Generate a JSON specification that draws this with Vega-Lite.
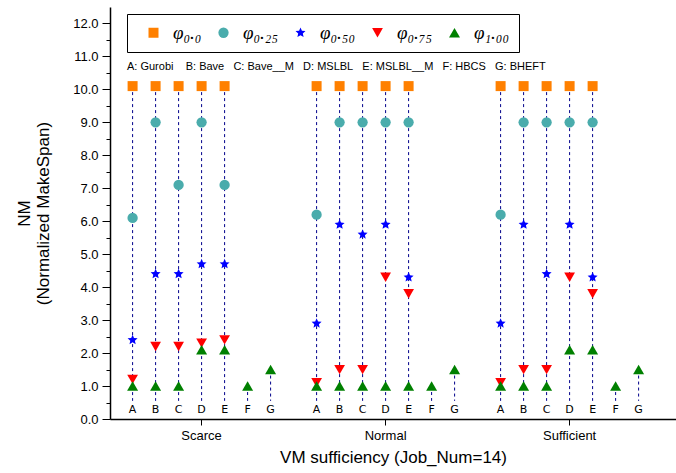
{
  "$schema": "https://vega.github.io/schema/vega-lite/v6.json",
  "autosize": "none",
  "width": 566,
  "height": 412,
  "padding": {"left": 110, "top": 7, "right": 0, "bottom": 54},
  "config": {"font": "Liberation Sans", "view": {"stroke": null}},
  "title": {
    "text": "A: Gurobi\u00a0\u00a0\u00a0\u00a0B: Bave\u00a0\u00a0\u00a0C: Bave__M\u00a0\u00a0\u00a0D: MSLBL\u00a0\u00a0\u00a0E: MSLBL__M\u00a0\u00a0\u00a0F: HBCS\u00a0\u00a0\u00a0G: BHEFT",
    "anchor": "start", "frame": "group", "orient": "top", "offset": 0,
    "dx": 17, "dy": 71, "baseline": "middle",
    "font": "Liberation Sans", "fontSize": 11, "fontWeight": "normal", "color": "black"
  },
  "data": {"values": [
    {"vm":"Scarce","alg":"A","phi":"φ₀.₀","nm":10.1},
    {"vm":"Scarce","alg":"A","phi":"φ₀.₂₅","nm":6.1},
    {"vm":"Scarce","alg":"A","phi":"φ₀.₅₀","nm":2.4},
    {"vm":"Scarce","alg":"A","phi":"φ₀.₇₅","nm":1.2},
    {"vm":"Scarce","alg":"A","phi":"φ₁.₀₀","nm":1.0},
    {"vm":"Scarce","alg":"B","phi":"φ₀.₀","nm":10.1},
    {"vm":"Scarce","alg":"B","phi":"φ₀.₂₅","nm":9.0},
    {"vm":"Scarce","alg":"B","phi":"φ₀.₅₀","nm":4.4},
    {"vm":"Scarce","alg":"B","phi":"φ₀.₇₅","nm":2.2},
    {"vm":"Scarce","alg":"B","phi":"φ₁.₀₀","nm":1.0},
    {"vm":"Scarce","alg":"C","phi":"φ₀.₀","nm":10.1},
    {"vm":"Scarce","alg":"C","phi":"φ₀.₂₅","nm":7.1},
    {"vm":"Scarce","alg":"C","phi":"φ₀.₅₀","nm":4.4},
    {"vm":"Scarce","alg":"C","phi":"φ₀.₇₅","nm":2.2},
    {"vm":"Scarce","alg":"C","phi":"φ₁.₀₀","nm":1.0},
    {"vm":"Scarce","alg":"D","phi":"φ₀.₀","nm":10.1},
    {"vm":"Scarce","alg":"D","phi":"φ₀.₂₅","nm":9.0},
    {"vm":"Scarce","alg":"D","phi":"φ₀.₅₀","nm":4.7},
    {"vm":"Scarce","alg":"D","phi":"φ₀.₇₅","nm":2.3},
    {"vm":"Scarce","alg":"D","phi":"φ₁.₀₀","nm":2.1},
    {"vm":"Scarce","alg":"E","phi":"φ₀.₀","nm":10.1},
    {"vm":"Scarce","alg":"E","phi":"φ₀.₂₅","nm":7.1},
    {"vm":"Scarce","alg":"E","phi":"φ₀.₅₀","nm":4.7},
    {"vm":"Scarce","alg":"E","phi":"φ₀.₇₅","nm":2.4},
    {"vm":"Scarce","alg":"E","phi":"φ₁.₀₀","nm":2.1},
    {"vm":"Scarce","alg":"F","phi":"φ₁.₀₀","nm":1.0},
    {"vm":"Scarce","alg":"G","phi":"φ₁.₀₀","nm":1.5},
    {"vm":"Normal","alg":"A","phi":"φ₀.₀","nm":10.1},
    {"vm":"Normal","alg":"A","phi":"φ₀.₂₅","nm":6.2},
    {"vm":"Normal","alg":"A","phi":"φ₀.₅₀","nm":2.9},
    {"vm":"Normal","alg":"A","phi":"φ₀.₇₅","nm":1.1},
    {"vm":"Normal","alg":"A","phi":"φ₁.₀₀","nm":1.0},
    {"vm":"Normal","alg":"B","phi":"φ₀.₀","nm":10.1},
    {"vm":"Normal","alg":"B","phi":"φ₀.₂₅","nm":9.0},
    {"vm":"Normal","alg":"B","phi":"φ₀.₅₀","nm":5.9},
    {"vm":"Normal","alg":"B","phi":"φ₀.₇₅","nm":1.5},
    {"vm":"Normal","alg":"B","phi":"φ₁.₀₀","nm":1.0},
    {"vm":"Normal","alg":"C","phi":"φ₀.₀","nm":10.1},
    {"vm":"Normal","alg":"C","phi":"φ₀.₂₅","nm":9.0},
    {"vm":"Normal","alg":"C","phi":"φ₀.₅₀","nm":5.6},
    {"vm":"Normal","alg":"C","phi":"φ₀.₇₅","nm":1.5},
    {"vm":"Normal","alg":"C","phi":"φ₁.₀₀","nm":1.0},
    {"vm":"Normal","alg":"D","phi":"φ₀.₀","nm":10.1},
    {"vm":"Normal","alg":"D","phi":"φ₀.₂₅","nm":9.0},
    {"vm":"Normal","alg":"D","phi":"φ₀.₅₀","nm":5.9},
    {"vm":"Normal","alg":"D","phi":"φ₀.₇₅","nm":4.3},
    {"vm":"Normal","alg":"D","phi":"φ₁.₀₀","nm":1.0},
    {"vm":"Normal","alg":"E","phi":"φ₀.₀","nm":10.1},
    {"vm":"Normal","alg":"E","phi":"φ₀.₂₅","nm":9.0},
    {"vm":"Normal","alg":"E","phi":"φ₀.₅₀","nm":4.3},
    {"vm":"Normal","alg":"E","phi":"φ₀.₇₅","nm":3.8},
    {"vm":"Normal","alg":"E","phi":"φ₁.₀₀","nm":1.0},
    {"vm":"Normal","alg":"F","phi":"φ₁.₀₀","nm":1.0},
    {"vm":"Normal","alg":"G","phi":"φ₁.₀₀","nm":1.5},
    {"vm":"Sufficient","alg":"A","phi":"φ₀.₀","nm":10.1},
    {"vm":"Sufficient","alg":"A","phi":"φ₀.₂₅","nm":6.2},
    {"vm":"Sufficient","alg":"A","phi":"φ₀.₅₀","nm":2.9},
    {"vm":"Sufficient","alg":"A","phi":"φ₀.₇₅","nm":1.1},
    {"vm":"Sufficient","alg":"A","phi":"φ₁.₀₀","nm":1.0},
    {"vm":"Sufficient","alg":"B","phi":"φ₀.₀","nm":10.1},
    {"vm":"Sufficient","alg":"B","phi":"φ₀.₂₅","nm":9.0},
    {"vm":"Sufficient","alg":"B","phi":"φ₀.₅₀","nm":5.9},
    {"vm":"Sufficient","alg":"B","phi":"φ₀.₇₅","nm":1.5},
    {"vm":"Sufficient","alg":"B","phi":"φ₁.₀₀","nm":1.0},
    {"vm":"Sufficient","alg":"C","phi":"φ₀.₀","nm":10.1},
    {"vm":"Sufficient","alg":"C","phi":"φ₀.₂₅","nm":9.0},
    {"vm":"Sufficient","alg":"C","phi":"φ₀.₅₀","nm":4.4},
    {"vm":"Sufficient","alg":"C","phi":"φ₀.₇₅","nm":1.5},
    {"vm":"Sufficient","alg":"C","phi":"φ₁.₀₀","nm":1.0},
    {"vm":"Sufficient","alg":"D","phi":"φ₀.₀","nm":10.1},
    {"vm":"Sufficient","alg":"D","phi":"φ₀.₂₅","nm":9.0},
    {"vm":"Sufficient","alg":"D","phi":"φ₀.₅₀","nm":5.9},
    {"vm":"Sufficient","alg":"D","phi":"φ₀.₇₅","nm":4.3},
    {"vm":"Sufficient","alg":"D","phi":"φ₁.₀₀","nm":2.1},
    {"vm":"Sufficient","alg":"E","phi":"φ₀.₀","nm":10.1},
    {"vm":"Sufficient","alg":"E","phi":"φ₀.₂₅","nm":9.0},
    {"vm":"Sufficient","alg":"E","phi":"φ₀.₅₀","nm":4.3},
    {"vm":"Sufficient","alg":"E","phi":"φ₀.₇₅","nm":3.8},
    {"vm":"Sufficient","alg":"E","phi":"φ₁.₀₀","nm":2.1},
    {"vm":"Sufficient","alg":"F","phi":"φ₁.₀₀","nm":1.0},
    {"vm":"Sufficient","alg":"G","phi":"φ₁.₀₀","nm":1.5}
  ]},
  "encoding": {
    "x": {
      "field": "vm", "type": "nominal",
      "scale": {"type": "band", "domain": ["Scarce", "Normal", "Sufficient"], "paddingInner": 0.125, "paddingOuter": 0.1005, "align": 0.3},
      "axis": {
        "title": "VM sufficiency (Job_Num=14)", "titleFontSize": 17, "titleFontWeight": "normal", "titleColor": "black", "titlePadding": 7,
        "labelAngle": 0, "labelFontSize": 13, "labelColor": "black", "labelPadding": 4,
        "domainColor": "black", "domainWidth": 1.5, "tickColor": "black", "tickSize": 6, "tickWidth": 1
      }
    },
    "xOffset": {"field": "alg", "type": "nominal", "scale": {"domain": ["A","B","C","D","E","F","G"], "paddingInner": 0, "paddingOuter": 0}},
    "y": {
      "field": "nm", "type": "quantitative",
      "scale": {"domain": [0, 12.5], "nice": false},
      "axis": {
        "title": ["NM", "(Normalized MakeSpan)"], "titleFontSize": 17, "titleFontWeight": "normal", "titleColor": "black", "titlePadding": 20, "titleLineHeight": 19,
        "values": [0,0.5,1,1.5,2,2.5,3,3.5,4,4.5,5,5.5,6,6.5,7,7.5,8,8.5,9,9.5,10,10.5,11,11.5,12],
        "labelExpr": "datum.value % 1 === 0 ? format(datum.value, '.1f') : ''",
        "labelOverlap": false,
        "labelFontSize": 13, "labelColor": "black", "labelPadding": 4,
        "grid": false, "domainColor": "black", "domainWidth": 1.5, "tickColor": "black", "tickWidth": 1,
        "tickSize": {"condition": {"test": "datum.value % 1 === 0", "value": 8}, "value": 4}
      }
    }
  },
  "layer": [
    {
      "transform": [{"aggregate": [{"op": "max", "field": "nm", "as": "nm"}], "groupby": ["vm", "alg"]}],
      "mark": {"type": "rule", "color": "#00008B", "strokeWidth": 1, "strokeDash": [3, 3]},
      "encoding": {
        "y2": {"datum": 0.55}
      }
    },
    {
      "mark": {"type": "point", "filled": true, "opacity": 1},
      "encoding": {
        "color": {
          "field": "phi", "type": "nominal",
          "scale": {"domain": ["φ₀.₀","φ₀.₂₅","φ₀.₅₀","φ₀.₇₅","φ₁.₀₀"], "range": ["#FF8000","#4aacac","#0000FF","#FF0000","#008000"]},
          "legend": {
            "orient": "none", "legendX": 17, "legendY": 7, "direction": "horizontal", "columns": 5, "title": null,
            "strokeColor": "black", "padding": 9, "labelFont": "Liberation Serif", "labelFontStyle": "italic", "labelFontSize": 19,
            "labelColor": "black", "labelOffset": 10, "columnPadding": 4, "symbolOffset": 8, "symbolStrokeWidth": 0
          }
        },
        "shape": {
          "field": "phi", "type": "nominal",
          "scale": {"domain": ["φ₀.₀","φ₀.₂₅","φ₀.₅₀","φ₀.₇₅","φ₁.₀₀"], "range": ["square","circle","M0,-1L0.27,-0.37L0.95,-0.31L0.44,0.14L0.59,0.81L0,0.46L-0.59,0.81L-0.44,0.14L-0.95,-0.31L-0.27,-0.37Z","triangle-down","triangle-up"]}
        },
        "size": {
          "field": "phi", "type": "nominal",
          "scale": {"domain": ["φ₀.₀","φ₀.₂₅","φ₀.₅₀","φ₀.₇₅","φ₁.₀₀"], "range": [100, 121, 260, 200, 200]}
        }
      }
    },
    {
      "transform": [{"aggregate": [{"op": "count", "as": "n"}], "groupby": ["vm", "alg"]}],
      "mark": {"type": "text", "font": "DejaVu Sans", "fontSize": 11, "color": "black", "baseline": "middle", "dy": 0},
      "encoding": {
        "y": {
          "datum": 0.27,
          "axis": {
            "title": ["NM", "(Normalized MakeSpan)"], "titleFontSize": 17, "titleFontWeight": "normal", "titleColor": "black", "titlePadding": 20, "titleLineHeight": 19,
            "values": [0,0.5,1,1.5,2,2.5,3,3.5,4,4.5,5,5.5,6,6.5,7,7.5,8,8.5,9,9.5,10,10.5,11,11.5,12],
            "labelExpr": "datum.value % 1 === 0 ? format(datum.value, '.1f') : ''",
            "labelOverlap": false,
            "labelFontSize": 13, "labelColor": "black", "labelPadding": 4,
            "grid": false, "domainColor": "black", "domainWidth": 1.5, "tickColor": "black", "tickWidth": 1,
            "tickSize": {"condition": {"test": "datum.value % 1 === 0", "value": 8}, "value": 4}
          }
        },
        "text": {"field": "alg"}
      }
    }
  ]
}
